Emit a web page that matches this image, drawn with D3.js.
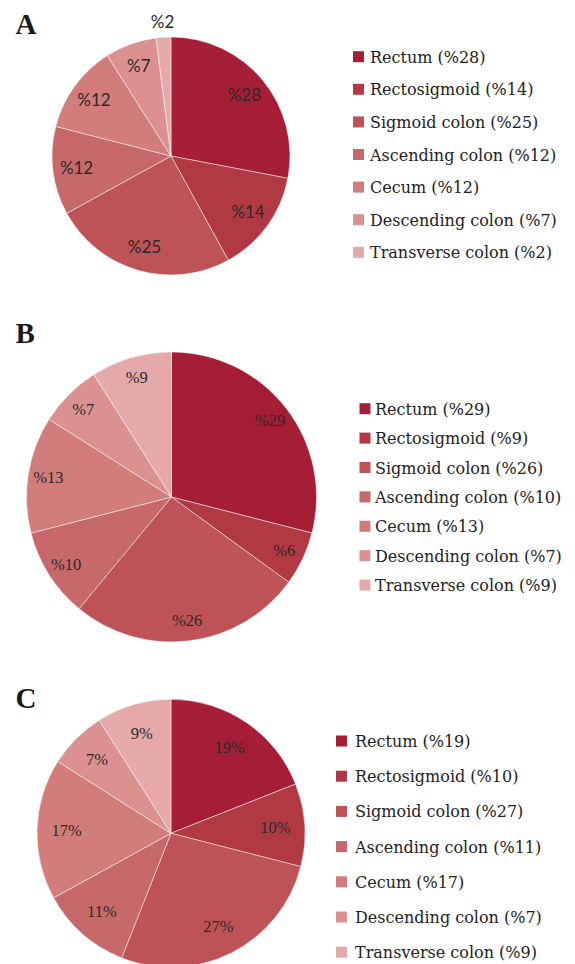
<!DOCTYPE html>
<html>
<head>
<meta charset="utf-8">
<script src="https://cdn.jsdelivr.net/npm/d3@7"></script>
<style>
  html, body { margin: 0; padding: 0; background: #fff; }
  svg { display: block; }
</style>
</head>
<body>
<svg id="chart" width="575" height="964"></svg>
<script>
// ---- data ----
const categories = ["Rectum", "Rectosigmoid", "Sigmoid colon", "Ascending colon", "Cecum", "Descending colon", "Transverse colon"];
const valuesA = [28, 14, 25, 12, 12, 7, 2];
const valuesB = [29, 6, 26, 10, 13, 7, 9];
const valuesC = [19, 10, 27, 11, 17, 7, 9];
const legendValuesA = [28, 14, 25, 12, 12, 7, 2];
const legendValuesB = [29, 9, 26, 10, 13, 7, 9];
const legendValuesC = [19, 10, 27, 11, 17, 7, 9];
const panelLetters = ["A", "B", "C"];
const colors = ["#a51e35", "#b03944", "#bd5257", "#c7686a", "#d27c7c", "#db9190", "#e6a9a9"];

// ---- layout ----
const panels = [
  { letter: panelLetters[0], values: valuesA, legend: legendValuesA,
    cx: 171, cy: 156, r: 119, labelR: 0.80, labelFont: "Lato, 'Open Sans', sans-serif", labelSize: 17,
    fmt: v => "%" + v, letterY: 34,
    lgX: 353, lgY: 56.7, lgStep: 32.6, lgTextX: 370 },
  { letter: panelLetters[1], values: valuesB, legend: legendValuesB,
    cx: 171.5, cy: 497, r: 145, labelR: 0.86, labelFont: "'Liberation Serif', serif", labelSize: 16.5,
    fmt: v => "%" + v, letterY: 343,
    lgX: 359.5, lgY: 408.7, lgStep: 29.4, lgTextX: 375 },
  { letter: panelLetters[2], values: valuesC, legend: legendValuesC,
    cx: 171, cy: 833.3, r: 134, labelR: 0.78, labelFont: "'Liberation Serif', serif", labelSize: 16.5,
    fmt: v => v + "%", letterY: 708,
    lgX: 336, lgY: 741, lgStep: 35.2, lgTextX: 355 }
];

const svg = d3.select("#chart");
const color = d3.scaleOrdinal().domain(categories).range(colors);
const pie = d3.pie().sort(null).value(d => d.value);

panels.forEach(p => {
  const data = categories.map((c, i) => ({ name: c, value: p.values[i], legend: p.legend[i] }));
  const arcs = pie(data);
  const arc = d3.arc().innerRadius(0).outerRadius(p.r);
  const g = svg.append("g").attr("transform", `translate(${p.cx},${p.cy})`);

  g.selectAll("path").data(arcs).join("path")
    .attr("d", arc)
    .attr("fill", d => color(d.data.name))
    .attr("stroke", "rgba(255,255,255,0.6)")
    .attr("stroke-width", 0.8);

  g.selectAll("text.lbl").data(arcs).join("text")
    .attr("class", "lbl")
    .attr("transform", d => {
      const a = (d.startAngle + d.endAngle) / 2;
      const rr = d.data.value < 4 ? p.r + 15 : p.r * p.labelR;
      return `translate(${Math.sin(a) * rr},${-Math.cos(a) * rr})`;
    })
    .attr("text-anchor", "middle")
    .attr("dy", "0.35em")
    .attr("font-family", p.labelFont)
    .attr("font-size", p.labelSize)
    .attr("fill", "#2a2a2a")
    .text(d => p.fmt(d.data.value));

  svg.append("text")
    .attr("x", 15.5).attr("y", p.letterY)
    .attr("font-family", "'Liberation Serif', serif")
    .attr("font-weight", "bold")
    .attr("font-size", 29)
    .attr("fill", "#1a1a1a")
    .text(p.letter);

  const lg = svg.append("g");
  const items = lg.selectAll("g").data(data).join("g")
    .attr("transform", (d, i) => `translate(0,${p.lgY + i * p.lgStep})`);
  items.append("rect")
    .attr("x", p.lgX).attr("y", -5.5)
    .attr("width", 11).attr("height", 11)
    .attr("fill", d => color(d.name));
  items.append("text")
    .attr("x", p.lgTextX).attr("y", 6)
    .attr("font-family", "'DejaVu Serif', serif")
    .attr("font-size", 16)
    .attr("fill", "#222")
    .text(d => `${d.name} (%${d.legend})`);
});
</script>
</body>
</html>
